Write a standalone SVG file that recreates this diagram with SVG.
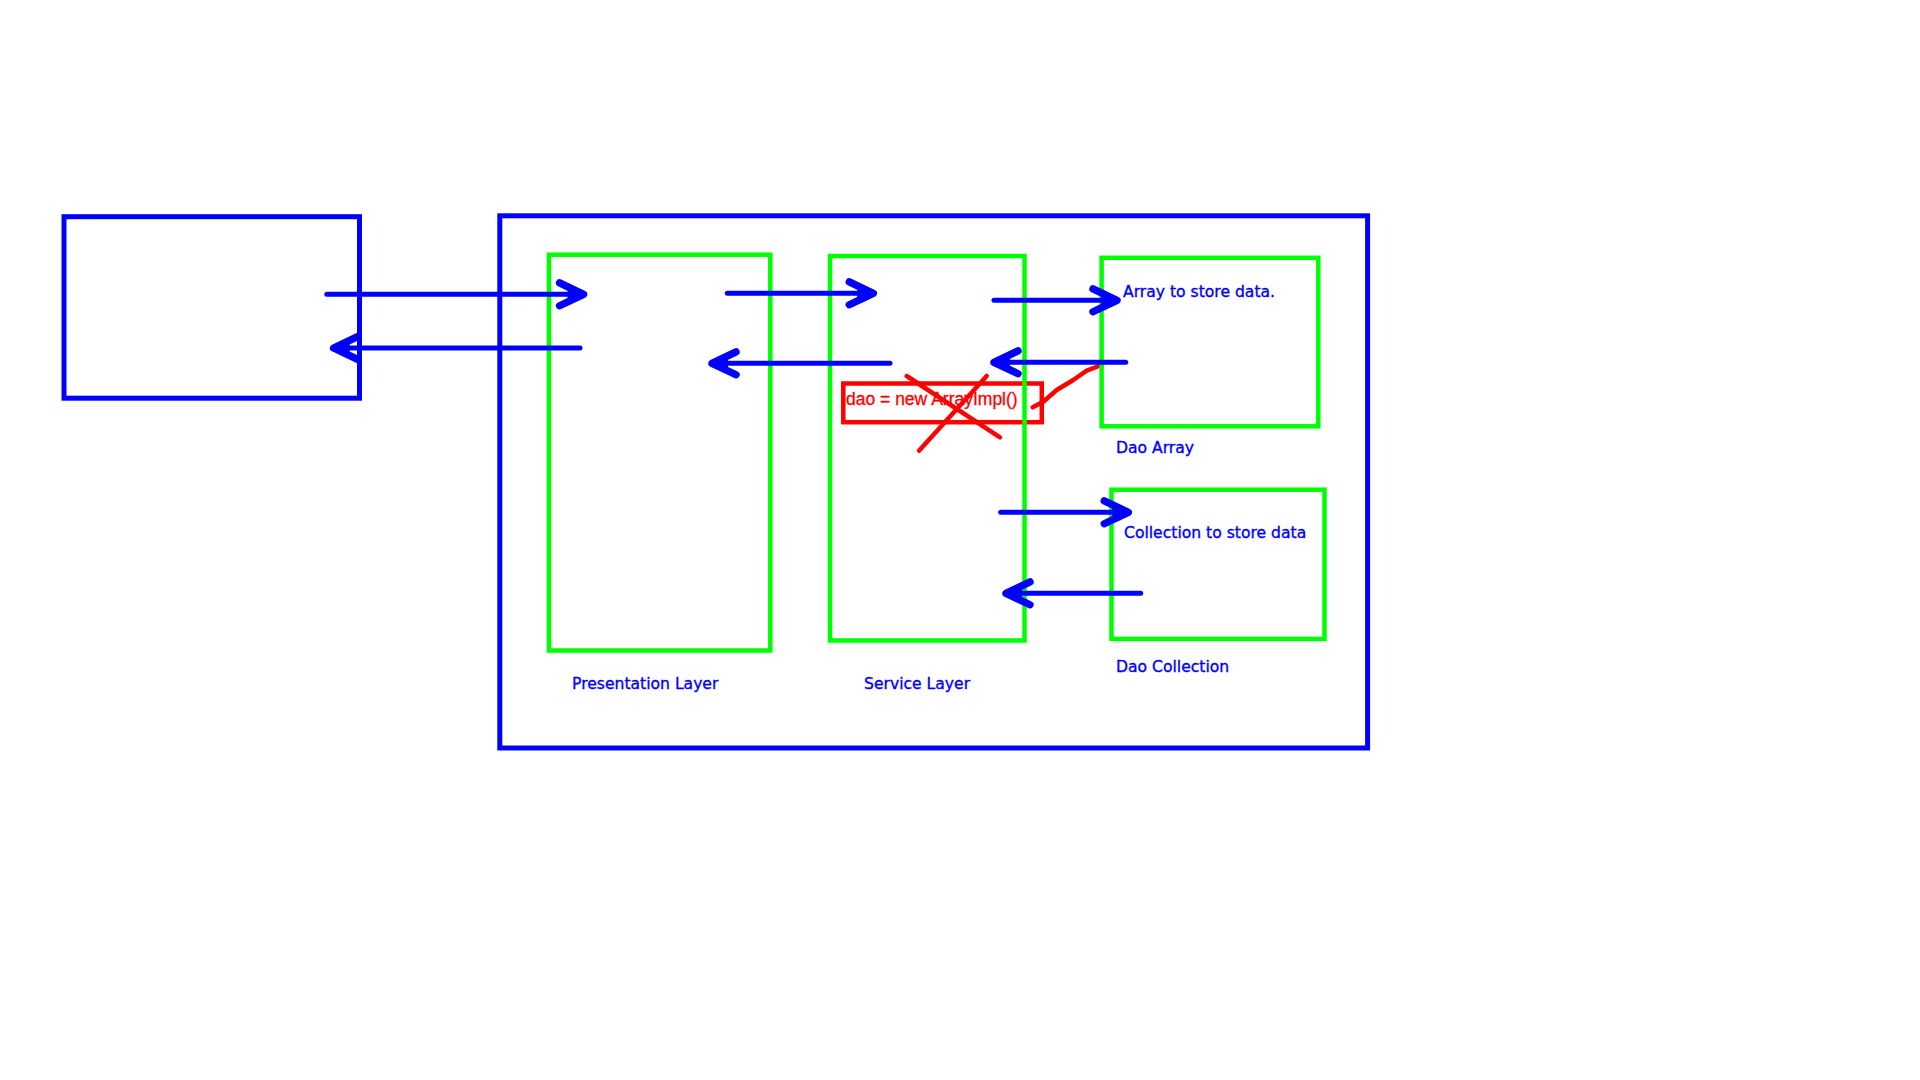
<svg xmlns="http://www.w3.org/2000/svg" width="1920" height="1080" viewBox="0 0 1920 1080">
<defs>
<style>
.blue{fill:none;stroke:#0000FF;stroke-width:5}
.green{fill:none;stroke:#00FF00;stroke-width:4.5}
.red{fill:none;stroke:#FF0000;stroke-width:4.5}
.ink{fill:none;stroke:#FF0000;stroke-width:4.5;stroke-linecap:round;stroke-linejoin:round}
.conn{fill:none;stroke:#0000FF;stroke-width:5;stroke-linecap:round;marker-end:url(#chev)}
.lbl{font-family:"DejaVu Sans",sans-serif;font-size:15.6px;fill:#0000FF;stroke:#0000FF;stroke-width:0.35}
.code{font-family:"Liberation Sans",Arial,sans-serif;font-size:17.5px;fill:#FF0000;stroke:#FF0000;stroke-width:0.3}
</style>
<marker id="chev" markerUnits="userSpaceOnUse" markerWidth="40" markerHeight="40" viewBox="-30 -15 35 30" refX="0" refY="0" orient="auto" overflow="visible">
<path d="M-21,-10 L0,0 L-21,10" fill="none" stroke="#0000FF" stroke-width="6.5" stroke-linecap="round" stroke-linejoin="round"/>
<path d="M-14,-5.5 L1,0 L-14,5.5 Z" fill="#0000FF"/>
</marker>
</defs>
<rect width="1920" height="1080" fill="#FFFFFF"/>

<g id="note-dao">
<rect class="red" x="843.3" y="383.5" width="198.5" height="38.7"/>
<text class="code" x="846" y="405">dao = new ArrayImpl()</text>
<path class="ink" d="M906.7,376 L1000,437.3 M986.7,376 L919,450.7"/>
<path class="ink" d="M1032.7,407.3 L1043.3,401.7 L1056.7,390 L1073.3,380 L1086.7,370.7 L1101.7,365"/>
</g>

<g id="client">
<rect class="blue" x="64" y="216.7" width="295.5" height="181.5"/>
</g>

<g id="application">
<rect class="blue" x="499.8" y="215.8" width="867.8" height="532.2"/>
</g>

<g id="presentation-layer">
<rect class="green" x="549" y="254.7" width="221.3" height="395.8"/>
<text class="lbl" x="572" y="689">Presentation Layer</text>
</g>

<g id="service-layer">
<rect class="green" x="830" y="256" width="194.5" height="384.5"/>
<text class="lbl" x="864" y="689">Service Layer</text>
</g>

<g id="dao-array">
<rect class="green" x="1101.6" y="257.8" width="216.7" height="168.5"/>
<text class="lbl" x="1123" y="297">Array to store data.</text>
<text class="lbl" x="1116" y="453">Dao Array</text>
</g>

<g id="dao-collection">
<rect class="green" x="1111.5" y="489.7" width="213" height="149.2"/>
<text class="lbl" x="1124" y="538">Collection to store data</text>
<text class="lbl" x="1116" y="672">Dao Collection</text>
</g>

<g id="connectors">
<path class="conn" d="M326.8,294.3 L583.6,294.3"/>
<path class="conn" d="M580,348 L333.6,348"/>
<path class="conn" d="M727.3,293.3 L873.3,293.3"/>
<path class="conn" d="M890,363.3 L712,363.3"/>
<path class="conn" d="M994,300.3 L1117,300.3"/>
<path class="conn" d="M1125.7,362.3 L994,362.3"/>
<path class="conn" d="M1000.7,512.3 L1128.3,512.3"/>
<path class="conn" d="M1140.7,593.3 L1006,593.3"/>
</g>
</svg>
